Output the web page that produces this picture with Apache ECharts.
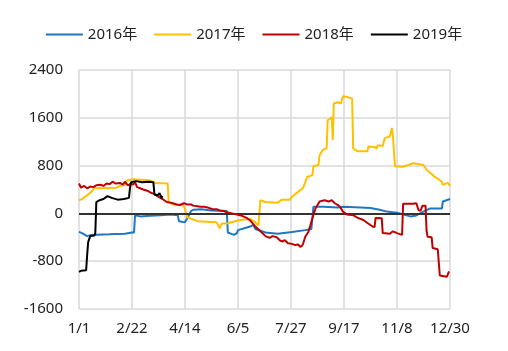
<!DOCTYPE html>
<html>
<head>
<meta charset="utf-8">
<script src="https://cdn.jsdelivr.net/npm/echarts@6/dist/echarts.min.js"></script>
<style>
  html, body { margin: 0; padding: 0; background: #fff; }
  #main { width: 508px; height: 351px; }
</style>
</head>
<body>
<div id="main"></div>
<script>
// x 轴刻度标签（每 52 天一个）
var xLabels = ['1/1', '2/22', '4/14', '6/5', '7/27', '9/17', '11/8', '12/30'];
var seriesNames = ['2016年', '2017年', '2018年', '2019年'];

// 数据：[第几天, 数值]
var data2016 = [[0,-310],[3,-330],[8,-380],[12,-360],[30,-350],[45,-340],[52,-320],[54,-320],[55,-30],[60,-50],[70,-40],[80,-30],[90,-20],[97,-30],[98,-130],[104,-150],[106,-90],[110,40],[112,60],[120,70],[130,50],[145,40],[146,-320],[152,-360],[155,-330],[156,-280],[163,-245],[168,-220],[171,-190],[173,-260],[183,-320],[195,-340],[209,-310],[222,-280],[228,-260],[230,110],[240,110],[254,100],[260,110],[276,100],[286,90],[295,60],[302,30],[312,10],[325,-50],[330,-40],[338,30],[344,80],[356,80],[357,200],[364,240]];

var data2017 = [[0,220],[3,240],[6,280],[10,330],[13,380],[15,420],[37,430],[40,460],[45,480],[47,550],[53,570],[65,560],[70,550],[75,510],[87,500],[88,190],[92,150],[102,140],[104,80],[106,-60],[116,-130],[135,-150],[138,-250],[140,-170],[145,-170],[158,-110],[168,-90],[173,-150],[176,-200],[178,220],[183,190],[195,180],[199,230],[207,230],[209,280],[215,360],[220,430],[224,610],[229,640],[230,790],[235,810],[236,970],[239,1060],[243,1090],[244,1560],[248,1610],[249,1230],[250,1840],[254,1860],[257,1840],[259,1960],[263,1950],[268,1920],[269,1090],[273,1040],[283,1040],[284,1120],[290,1110],[292,1080],[293,1140],[298,1130],[300,1260],[305,1290],[307,1430],[308,1290],[310,790],[318,780],[328,840],[338,810],[341,730],[346,660],[349,610],[352,580],[356,530],[357,480],[362,510],[364,460]];

var data2018 = [[0,500],[2,430],[5,460],[8,420],[11,450],[14,440],[17,470],[21,480],[24,460],[27,500],[30,490],[33,530],[36,500],[40,510],[43,480],[45,530],[48,470],[51,500],[53,480],[55,520],[57,440],[60,420],[63,400],[67,380],[70,350],[73,330],[76,300],[79,270],[82,240],[86,190],[90,180],[92,170],[96,150],[99,140],[103,170],[106,150],[110,150],[112,130],[116,120],[119,110],[123,110],[126,100],[131,70],[135,70],[138,50],[142,40],[145,20],[150,0],[155,-20],[160,-40],[165,-80],[168,-120],[170,-160],[173,-220],[178,-300],[183,-380],[187,-410],[190,-380],[194,-400],[197,-450],[199,-470],[202,-450],[205,-500],[209,-510],[212,-530],[215,-520],[217,-560],[219,-540],[220,-500],[222,-390],[225,-310],[227,-200],[229,-80],[232,80],[236,200],[241,220],[245,200],[248,220],[251,170],[254,140],[256,110],[259,30],[263,-20],[269,-30],[273,-70],[279,-110],[283,-160],[288,-220],[290,-230],[291,-75],[297,-80],[298,-330],[305,-340],[308,-300],[312,-330],[317,-360],[318,160],[328,160],[331,170],[333,60],[335,40],[337,130],[340,130],[341,-290],[342,-390],[346,-400],[347,-580],[352,-600],[354,-1040],[361,-1060],[363,-970]];

var data2019 = [[0,-980],[2,-960],[7,-950],[8,-700],[9,-480],[11,-380],[15,-370],[16,-330],[17,190],[20,220],[24,240],[28,290],[32,260],[38,230],[44,240],[49,260],[50,420],[51,520],[56,540],[62,520],[68,530],[73,520],[74,320],[77,300],[79,340],[81,260],[82,290]];

var colors = ['#1f77c4', '#ffc000', '#c00000', '#000000'];
var allData = [data2016, data2017, data2018, data2019];

var myChart = echarts.init(document.getElementById('main'));

var fontFamily = '"Noto Sans", "Noto Sans CJK SC", sans-serif';

var series = [];
seriesNames.forEach(function (name, i) {
    series.push({
        name: name,
        type: 'line',
        data: allData[i],
        symbol: 'none',
        z: 3 + i,
        lineStyle: { color: colors[i], width: 2 },
        itemStyle: { color: colors[i] }
    });
});

// 0 轴的深色横线
series.push({
    type: 'line',
    data: [],
    silent: true,
    z: 2,
    markLine: {
        silent: true,
        symbol: 'none',
        label: { show: false },
        lineStyle: { color: '#333333', width: 2, type: 'solid' },
        data: [{ yAxis: 0 }]
    }
});

var option = {
    animation: false,
    color: colors,
    legend: {
        data: seriesNames,
        top: 22,
        left: 'center',
        itemWidth: 37,
        itemHeight: 2,
        itemGap: 17,
        icon: 'rect',
        textStyle: { fontSize: 15, color: '#222', fontFamily: fontFamily }
    },
    grid: {
        left: 79,
        right: 58,
        top: 70,
        bottom: 42,
        containLabel: false
    },
    xAxis: {
        type: 'value',
        min: 0,
        max: 364,
        interval: 52,
        axisLine: { show: false, onZero: false },
        axisTick: { show: false },
        axisLabel: {
            margin: 12,
            fontSize: 15,
            color: '#222',
            fontFamily: fontFamily,
            formatter: function (v) {
                return xLabels[Math.round(v / 52)];
            }
        },
        splitLine: { show: true, lineStyle: { color: '#d9d9d9', width: 1.5 } }
    },
    yAxis: {
        type: 'value',
        min: -1600,
        max: 2400,
        interval: 800,
        axisLine: { show: false },
        axisTick: { show: false },
        axisLabel: {
            margin: 16,
            fontSize: 15,
            color: '#222',
            fontFamily: fontFamily,
            formatter: function (v) {
                return String(v);
            }
        },
        splitLine: { show: true, lineStyle: { color: '#d9d9d9', width: 1.5 } }
    },
    series: series
};

option && myChart.setOption(option);
</script>
</body>
</html>
